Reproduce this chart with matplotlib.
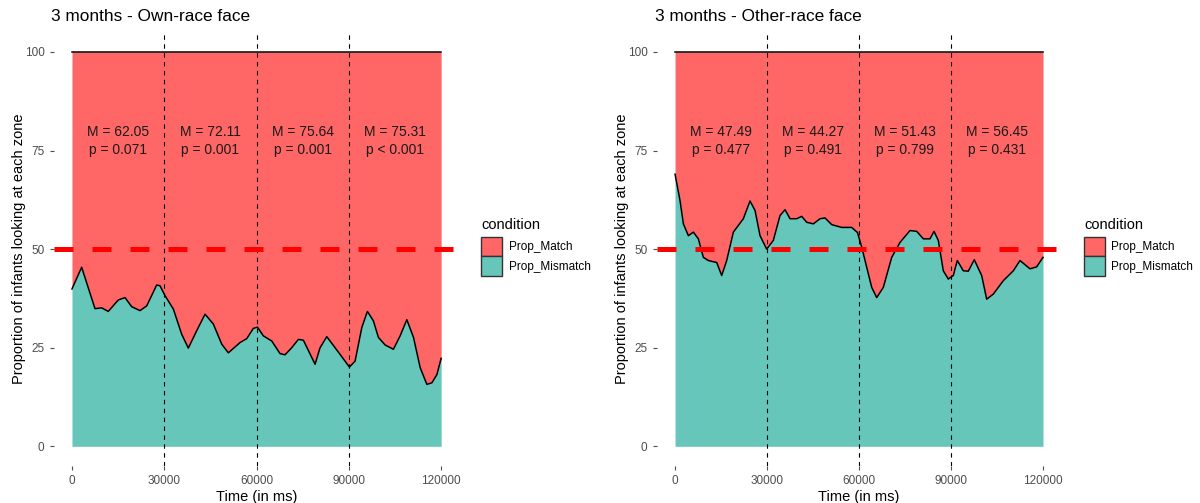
import matplotlib
matplotlib.use("Agg")
import matplotlib.pyplot as plt
from matplotlib.patches import Patch

plt.rcParams["font.family"] = ["Liberation Sans", "DejaVu Sans"]

MATCH_COLOR = "#FF6666"
MISMATCH_COLOR = "#66C6BA"

# Own-race face: proportion of infants looking at the mismatch zone
own_time = [0, 3150, 7480, 9650, 11800, 15060, 17240, 19410, 22110, 24290,
             27540, 28620, 30240, 32950, 35670, 37820, 40550, 43250, 45950,
             48680, 50830, 54630, 56810, 58960, 60300, 62210, 64940, 67640,
             69270, 71440, 73590, 75220, 79020, 80650, 82830, 87150, 90180,
             92030, 94210, 96030, 97980, 99610, 101790, 104490, 106670,
             108850, 111020, 113200, 115370, 117000, 118630, 120000]
own_mismatch = [39.9, 45.4, 34.9, 35.1, 34.2, 37.1, 37.7, 35.4, 34.4, 35.6,
                40.9, 40.7, 38.2, 34.8, 28.4, 24.9, 29.3, 33.5, 31.0,
                25.9, 23.7, 26.3, 27.3, 29.9, 30.2, 28.0, 26.7, 23.5,
                23.2, 25.0, 27.1, 26.9, 20.8, 25.0, 27.8, 23.3, 20.1,
                21.6, 30.1, 34.2, 31.8, 27.6, 25.7, 24.6, 28.0,
                32.1, 27.6, 19.9, 15.7, 16.1, 18.2, 22.3]

# Other-race face
other_time = [0, 1630, 2720, 4350, 5980, 7610, 9240, 10870, 13590, 15220,
              16850, 19020, 22280, 24460, 26090, 27720, 29890, 32050, 34240,
              35870, 37500, 39680, 41310, 42950, 45100, 47280, 48910, 51100,
              54360, 57620, 59500, 60880, 62510, 64140, 65770, 67930, 70660,
              73370, 76630, 78820, 80980, 83150, 84460, 85860, 87490, 89120,
              90750, 92050, 94010, 95640, 97590, 100000, 101640, 103800,
              107070, 110320, 112500, 115760, 117930, 120000]
other_mismatch = [69.0, 62.3, 56.4, 53.4, 54.3, 52.6, 47.9, 47.1, 46.6, 43.3,
                  47.1, 54.3, 57.7, 62.2, 59.8, 53.4, 50.0, 52.2, 58.5,
                  60.0, 57.7, 57.7, 58.3, 56.8, 56.4, 57.7, 57.9, 56.2,
                  55.5, 55.5, 54.2, 50.5, 45.4, 40.3, 37.7, 40.3, 47.9,
                  51.7, 54.7, 54.5, 52.6, 52.6, 54.5, 52.2, 44.5, 42.4,
                  43.3, 47.1, 44.5, 44.4, 47.3, 43.3, 37.3, 38.6,
                  42.0, 44.5, 47.1, 45.0, 45.5, 47.9]

zone_centres = [15000, 45000, 75000, 105000]
own_labels = ["M = 62.05\np = 0.071", "M = 72.11\np = 0.001",
              "M = 75.64\np = 0.001", "M = 75.31\np < 0.001"]
other_labels = ["M = 47.49\np = 0.477", "M = 44.27\np = 0.491",
                "M = 51.43\np = 0.799", "M = 56.45\np = 0.431"]
zone_bounds = [30000, 60000, 90000]
x_ticks = [0, 30000, 60000, 90000, 120000]
y_ticks = [0, 25, 50, 75, 100]


def draw_panel(ax, time, mismatch, labels, title):
    ax.fill_between(time, mismatch, 100, color=MATCH_COLOR, linewidth=0)
    ax.fill_between(time, 0, mismatch, color=MISMATCH_COLOR, linewidth=0)
    ax.plot(time, mismatch, color="black", linewidth=1.1)
    ax.plot([time[0], time[-1]], [100, 100], color="black", linewidth=1.1)
    for b in zone_bounds:
        ax.axvline(b, color="black", linewidth=0.8, dashes=(4, 4))
    ax.axhline(50, color="#FF0000", linewidth=3.6, dashes=(3.8, 3.8))
    for xc, lab in zip(zone_centres, labels):
        ax.text(xc, 77.4, lab, ha="center", va="center", fontsize=10,
                color="#1A1A1A", linespacing=1.35)

    ax.set_xlim(-6000, 126000)
    ax.set_ylim(-5, 105)
    ax.set_xticks(x_ticks)
    ax.set_xticklabels([str(t) for t in x_ticks])
    ax.set_yticks(y_ticks)
    ax.tick_params(colors="#4D4D4D", labelsize=8.5, length=3, width=0.8,
                   labelcolor="#4D4D4D")
    for s in ax.spines.values():
        s.set_visible(False)
    ax.set_xlabel("Time (in ms)", fontsize=10.5, color="black", labelpad=2)
    ax.set_ylabel("Proportion of infants looking at each zone", fontsize=10.5,
                  color="black", labelpad=-1)
    ax.set_title(title, loc="left", fontsize=12.4, color="black", pad=8,
                 x=-0.005)


fig = plt.figure(figsize=(12, 5.03), dpi=100)
ax1 = fig.add_axes([0.0446, 0.0735, 0.3384, 0.8625])
ax2 = fig.add_axes([0.5472, 0.0735, 0.3373, 0.8625])

draw_panel(ax1, own_time, own_mismatch, own_labels, "3 months - Own-race face")
draw_panel(ax2, other_time, other_mismatch, other_labels, "3 months - Other-race face")

handles = [Patch(facecolor=MATCH_COLOR, edgecolor="#333333", linewidth=1.0, label="Prop_Match"),
           Patch(facecolor=MISMATCH_COLOR, edgecolor="#333333", linewidth=1.0, label="Prop_Mismatch")]
for x0 in (0.4015, 0.9035):
    fig.text(x0, 1 - 225 / 503, "condition", fontsize=10.5, ha="left", va="center")
    fig.legend(handles=handles, loc="upper left",
               bbox_to_anchor=(x0 - 0.0005, 1 - 237 / 503), frameon=False,
               fontsize=8.5, handlelength=1.8, handleheight=2.15,
               handletextpad=0.55, labelspacing=0.0, borderaxespad=0,
               borderpad=0)

fig.savefig("out.png", dpi=100, facecolor="white")
